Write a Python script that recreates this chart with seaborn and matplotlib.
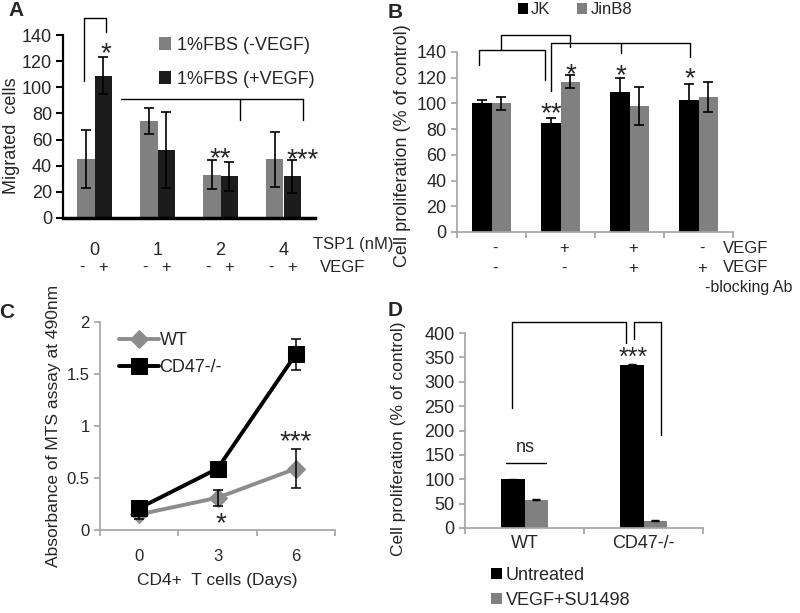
import numpy as np
import pandas as pd
import matplotlib
matplotlib.use("Agg")
import matplotlib.pyplot as plt
import matplotlib.transforms as mtransforms
import seaborn as sns

# Panel A - migration vs TSP1 dose
tsp1_doses = ["0", "1", "2", "4"]
a_groups = ["1%FBS (-VEGF)", "1%FBS (+VEGF)"]
a_minus_vegf = [45, 74, 33, 45]
a_plus_vegf = [109, 52, 32, 32]
a_minus_err = [22, 10, 11, 21]
a_plus_err = [14, 29, 11, 12.5]

# Panel B - proliferation of JK / JinB8
b_conditions = ["c1", "c2", "c3", "c4"]
b_lines = ["JK", "JinB8"]
b_jk = [100, 85, 109, 103]
b_jinb8 = [100, 117, 98, 105]
b_jk_err = [3, 4, 11, 12]
b_jinb8_err = [5, 5, 15, 12]
b_vegf_row = ["-", "+", "+", "-"]
b_ab_row = ["-", "-", "+", "+"]

# Panel C - MTS absorbance over days
c_days = [0, 3, 6]
c_wt = [0.15, 0.31, 0.59]
c_cd47 = [0.21, 0.59, 1.69]
c_wt_err = [0.04, 0.075, 0.19]
c_cd47_err = [0.02, 0.02, 0.15]

# Panel D - proliferation WT vs CD47-/-
d_genotypes = ["WT", "CD47-/-"]
d_treatments = ["Untreated", "VEGF+SU1498"]
d_untreated = [100, 335]
d_su1498 = [58, 15]
d_untreated_err = [1, 1]
d_su1498_err = [1, 1]

GRAY = "#808080"
SPINE = "#a6a6a6"

sns.set_theme(style="ticks")
plt.rcParams["font.family"] = ["Liberation Sans", "DejaVu Sans"]
plt.rcParams["font.size"] = 12


def add_errbars(ax, bars, errs, lw=1.2, cap=3.5):
    for cont, err in zip(bars, errs):
        xs = [p.get_x() + p.get_width() / 2 for p in cont]
        ys = [p.get_height() for p in cont]
        ax.errorbar(xs, ys, yerr=err, fmt="none", ecolor="black",
                    elinewidth=lw, capsize=cap, capthick=lw)


def bracket(ax, xs, ys, lw=1.0):
    ax.plot(xs, ys, color="black", lw=lw, clip_on=False)


fig = plt.figure(figsize=(8, 6.13), dpi=100)

# ---------------- Panel A ----------------
axA = fig.add_axes([63 / 800, 395 / 613, 252 / 800, 183 / 613])
dfA = pd.DataFrame({
    "dose": tsp1_doses * 2,
    "cells": a_minus_vegf + a_plus_vegf,
    "group": [a_groups[0]] * 4 + [a_groups[1]] * 4,
})
sns.barplot(data=dfA, x="dose", y="cells", hue="group", palette=[GRAY, "#1c1c1c"],
            width=0.57, saturation=1, errorbar=None, linewidth=0, ax=axA)
barsA = list(axA.containers)
add_errbars(axA, barsA, [a_minus_err, a_plus_err])
axA.set_xlim(-0.5, 3.5)
axA.set_ylim(0, 140)
axA.set_yticks(range(0, 141, 20))
axA.tick_params(axis="y", labelsize=13, length=5, width=1.5, color="black", pad=3)
axA.tick_params(axis="x", length=0, labelsize=13, pad=17)
axA.set_xlabel("")
axA.set_ylabel("Migrated  cells", fontsize=13)
axA.yaxis.set_label_coords(-0.17, 0.45)
sns.despine(ax=axA)
axA.spines["left"].set_linewidth(1.6)
axA.spines["left"].set_color("black")
axA.spines["bottom"].set_linewidth(2.5)
axA.spines["bottom"].set_color("black")
h, l = axA.get_legend_handles_labels()
axA.legend(h, l, frameon=False, loc="upper left", bbox_to_anchor=(0.38, 0.99),
           handlelength=0.7, handleheight=0.7, handletextpad=0.3, labelspacing=0.95,
           borderpad=0, borderaxespad=0, fontsize=13)
trA = mtransforms.blended_transform_factory(axA.transData, axA.transAxes)
for i in range(4):
    axA.text(i - 0.2, -0.27, "-", transform=trA, ha="center", va="center", fontsize=12)
    axA.text(i + 0.14, -0.27, "+", transform=trA, ha="center", va="center", fontsize=12)
axA.text(3.47, -0.1475, "TSP1 (nM)", transform=trA, ha="left", va="center", fontsize=12)
axA.text(3.58, -0.27, "VEGF", transform=trA, ha="left", va="center", fontsize=12)
bracket(axA, [-0.16, -0.16, 0.18, 0.18], [105, 153, 153, 142])
bracket(axA, [0.42, 3.31], [91, 91])
bracket(axA, [2.31, 2.31], [91, 75])
bracket(axA, [3.31, 3.31], [91, 75])
axA.text(0.18, 125, "*", ha="center", va="center", fontsize=20)
axA.text(2.0, 45, "**", ha="center", va="center", fontsize=20)
axA.text(3.3, 44, "***", ha="center", va="center", fontsize=20)

# ---------------- Panel B ----------------
axB = fig.add_axes([457 / 800, 381 / 613, 276 / 800, 180 / 613])
dfB = pd.DataFrame({
    "cond": b_conditions * 2,
    "prolif": b_jk + b_jinb8,
    "line": [b_lines[0]] * 4 + [b_lines[1]] * 4,
})
sns.barplot(data=dfB, x="cond", y="prolif", hue="line", palette=["#000000", GRAY],
            width=0.565, saturation=1, errorbar=None, linewidth=0, ax=axB)
barsB = list(axB.containers)
add_errbars(axB, barsB, [b_jk_err, b_jinb8_err])
axB.set_xlim(-0.5, 3.5)
axB.set_ylim(0, 140)
axB.set_yticks(range(0, 141, 20))
axB.set_xticks([-0.5, 0.5, 1.5, 2.5, 3.5])
axB.set_xticklabels([])
axB.tick_params(axis="y", labelsize=13, length=4, color=SPINE)
axB.tick_params(axis="x", length=4, color=SPINE)
axB.set_xlabel("")
axB.set_ylabel("Cell proliferation (% of control)", fontsize=13)
axB.yaxis.set_label_coords(-0.165, 0.48)
sns.despine(ax=axB)
for s in ["left", "bottom"]:
    axB.spines[s].set_color(SPINE)
h, l = axB.get_legend_handles_labels()
axB.legend(h, l, frameon=False, ncol=2, loc="center left", bbox_to_anchor=(0.22, 1.235),
           handlelength=0.6, handleheight=0.6, handletextpad=0.2, columnspacing=1.6,
           borderpad=0, borderaxespad=0, fontsize=12)
trB = mtransforms.blended_transform_factory(axB.transData, axB.transAxes)
for i, (v, a) in enumerate(zip(b_vegf_row, b_ab_row)):
    axB.text(i + 0.05, -0.09, v, transform=trB, ha="center", va="center", fontsize=12)
    axB.text(i + 0.05, -0.2, a, transform=trB, ha="center", va="center", fontsize=12)
axB.text(3.35, -0.09, "VEGF", transform=trB, ha="left", va="center", fontsize=12)
axB.text(3.35, -0.2, "VEGF", transform=trB, ha="left", va="center", fontsize=12)
axB.text(3.1, -0.31, "-blocking Ab", transform=trB, ha="left", va="center", fontsize=11.5)
bracket(axB, [-0.18, -0.18, 0.78, 0.78], [130, 141.6, 141.6, 118])
bracket(axB, [0.14, 0.14, 1.14, 1.14], [141.6, 153, 153, 144])
bracket(axB, [0.86, 0.86, 2.88, 2.88], [110, 147, 147, 136])
bracket(axB, [1.88, 1.88], [147, 139])
axB.text(0.86, 92, "**", ha="center", va="center", fontsize=20)
axB.text(1.15, 122, "*", ha="center", va="center", fontsize=20)
axB.text(1.88, 121, "*", ha="center", va="center", fontsize=20)
axB.text(2.88, 119, "*", ha="center", va="center", fontsize=20)

# ---------------- Panel C ----------------
axC = fig.add_axes([100 / 800, 83 / 613, 235 / 800, 208 / 613])
sns.lineplot(x=c_days, y=c_wt, color="#8c8c8c", marker="D", markersize=9,
             markeredgecolor="#8c8c8c", linewidth=2.8, label="WT", ax=axC)
sns.lineplot(x=c_days, y=c_cd47, color="black", marker="s", markersize=12,
             markeredgecolor="black", linewidth=2.8, label="CD47-/-", ax=axC)
axC.errorbar(c_days, c_wt, yerr=c_wt_err, fmt="none", ecolor="black",
             elinewidth=1.1, capsize=3.5, capthick=1.1)
axC.errorbar(c_days, c_cd47, yerr=c_cd47_err, fmt="none", ecolor="black",
             elinewidth=1.1, capsize=3.5, capthick=1.1)
axC.set_xlim(-1.5, 7.5)
axC.set_ylim(0, 2)
axC.set_yticks([0, 0.5, 1, 1.5, 2])
axC.set_yticklabels(["0", "0.5", "1", "1.5", "2"])
axC.set_xticks([-1.5, 1.5, 4.5, 7.5])
axC.set_xticklabels([])
axC.set_xticks(c_days, minor=True)
axC.set_xticklabels([str(d) for d in c_days], minor=True)
axC.tick_params(axis="x", which="minor", length=0, labelsize=12, pad=14)
axC.tick_params(axis="x", which="major", length=4, color=SPINE)
axC.tick_params(axis="y", labelsize=12, length=4, color=SPINE)
axC.set_xlabel("CD4+  T cells (Days)", fontsize=12.5, labelpad=6)
axC.set_ylabel("Absorbance of MTS assay at 490nm", fontsize=12.5)
axC.yaxis.set_label_coords(-0.165, 0.5)
sns.despine(ax=axC)
for s in ["left", "bottom"]:
    axC.spines[s].set_color(SPINE)
axC.legend(frameon=False, loc="upper left", bbox_to_anchor=(0.08, 0.95),
           handlelength=2.2, handletextpad=0.05, labelspacing=0.55,
           borderpad=0, borderaxespad=0, fontsize=13)
axC.text(3.12, 0.06, "*", ha="center", va="center", fontsize=20, clip_on=False)
axC.text(6.0, 0.84, "***", ha="center", va="center", fontsize=20)

# ---------------- Panel D ----------------
axD = fig.add_axes([465 / 800, 85 / 613, 238 / 800, 195 / 613])
dfD = pd.DataFrame({
    "geno": d_genotypes * 2,
    "prolif": d_untreated + d_su1498,
    "treat": [d_treatments[0]] * 2 + [d_treatments[1]] * 2,
})
sns.barplot(data=dfD, x="geno", y="prolif", hue="treat", palette=["#000000", GRAY],
            width=0.4, saturation=1, errorbar=None, linewidth=0, ax=axD)
barsD = list(axD.containers)
add_errbars(axD, barsD, [d_untreated_err, d_su1498_err], lw=1.0, cap=3)
axD.set_xlim(-0.5, 1.5)
axD.set_ylim(0, 400)
axD.set_yticks(range(0, 401, 50))
axD.set_xticks([-0.5, 0.5, 1.5])
axD.set_xticklabels([])
axD.set_xticks([0, 1], minor=True)
axD.set_xticklabels(d_genotypes, minor=True)
axD.tick_params(axis="x", which="minor", length=0, labelsize=13, pad=5)
axD.tick_params(axis="x", which="major", length=4, color=SPINE)
axD.tick_params(axis="y", labelsize=13, length=4, color=SPINE)
axD.set_xlabel("")
axD.set_ylabel("Cell proliferation (% of control)", fontsize=12.5)
axD.yaxis.set_label_coords(-0.25, 0.46)
sns.despine(ax=axD)
for s in ["left", "bottom"]:
    axD.spines[s].set_color(SPINE)
h, l = axD.get_legend_handles_labels()
axD.legend(h, l, frameon=False, loc="upper left", bbox_to_anchor=(0.11, -0.2),
           handlelength=0.6, handleheight=0.6, handletextpad=0.2, labelspacing=0.45,
           borderpad=0, borderaxespad=0, fontsize=13)
bracket(axD, [-0.105, -0.105, 0.853, 0.853], [246, 423, 423, 380])
bracket(axD, [0.92, 0.92, 1.147, 1.147], [388, 423, 423, 191])
bracket(axD, [-0.155, 0.18], [133, 133])
axD.text(0.91, 348, "***", ha="center", va="center", fontsize=18)
axD.text(0.01, 165, "ns", ha="center", va="center", fontsize=13)

# panel letters
for x, y, s in [(16, 10, "A"), (395, 12, "B"), (7, 313, "C"), (395, 311, "D")]:
    fig.text(x / 800, 1 - y / 613, s, ha="center", va="center", fontsize=15, fontweight="bold")

fig.savefig("out.png", dpi=100)
